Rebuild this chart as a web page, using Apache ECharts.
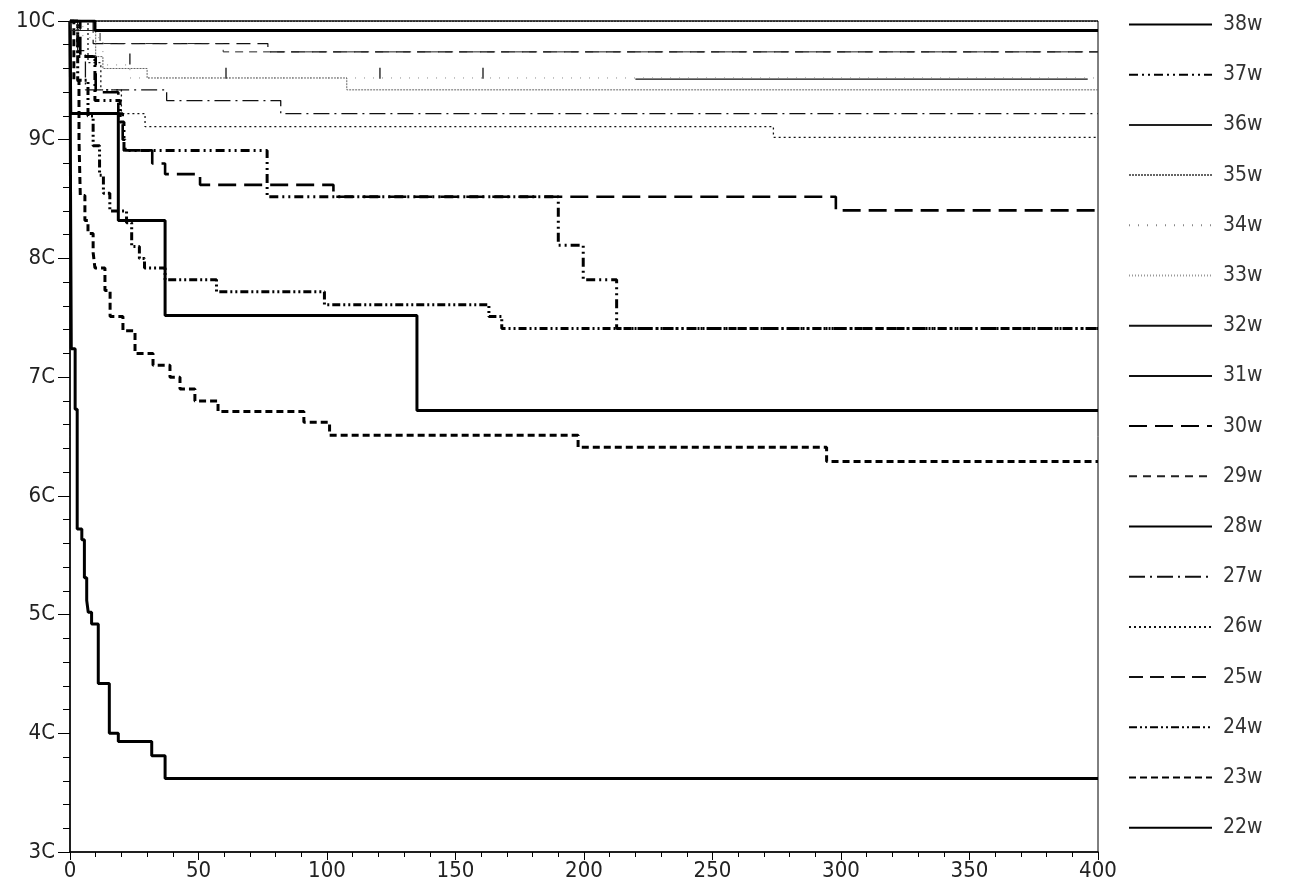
<!DOCTYPE html>
<html>
<head>
<meta charset="utf-8">
<script src="https://cdn.jsdelivr.net/npm/echarts@6/dist/echarts.min.js"></script>
<style>
  html, body { margin: 0; padding: 0; background: #fff; }
  #main { width: 1289px; height: 893px; }
</style>
</head>
<body>
<div id="main"></div>
<script>
// survival curves, [day, percent] at each step
var w22 = [[0,100],[0.2,86],[0.5,72.4],[2.0,67.3],[2.8,57.2],[4.6,56.3],[5.6,53.1],[6.5,51.2],[7.1,50.2],[8.4,49.2],[11.0,44.2],[15.3,40.0],[18.8,39.3],[31.8,38.1],[37.0,36.2],[400,36.2]];
var w23 = [[0,100],[1.5,95],[3.5,90],[4.0,85.3],[5.8,83.2],[7.0,82.1],[9.0,80.5],[9.7,79.2],[13.6,77.3],[15.6,75.1],[20.6,73.9],[25.3,72.0],[32.3,71.0],[38.9,70.0],[42.8,69.0],[48.6,68.0],[57.6,67.1],[91,66.2],[101,65.1],[197.7,64.1],[294.4,62.9],[400,62.9]];
var w24 = [[0,100],[3,95],[7,92],[9,89.5],[11.5,87],[13,85.5],[15.5,84],[22,83],[24,81],[27,80],[29,79.2],[37,78.2],[57,77.2],[99,76.1],[163,75.1],[168,74.1],[400,74.1]];
var w25 = [[0,100],[9,98.1],[77,97.4],[400,97.4]];
var w26 = [[0,100],[7,96.5],[12,94.2],[20,92.2],[29.2,91.1],[273.7,90.2],[400,90.2]];
var w27 = [[0,100],[3,97.5],[6,94.2],[37.6,93.3],[82,92.2],[400,92.2]];
var w28 = [[0,100],[0.3,92.2],[18.8,83.2],[37,75.2],[135,67.2],[400,67.2]];
var w29 = [[0,100],[4,99.2],[11.7,98.1],[59.6,97.4],[400,97.4]];
var w30 = [[0,100],[4,97],[10,94],[18.8,92.2],[20.5,90],[21.5,89.1],[32,88.0],[37,87.1],[50.6,86.2],[102.5,85.2],[298,84.05],[400,84.05]];
var w31 = [[0,100],[400,100]];
var w32 = [[220,95.1],[396,95.1]];
var w33 = [[0,100],[400,100]];
var w34 = [[0,100],[5,98.6],[12.8,96.3],[23.3,95.2],[400,95.2]];
var w35 = [[0,100],[10,97],[12.8,96.0],[30,95.2],[107.7,94.2],[400,94.2]];
var w36 = [[0,100],[0.4,99.2],[400,99.2]];
var w37 = [[0,100],[3,97],[9.7,93.3],[19.5,91.5],[21,89.1],[76.7,85.2],[190,81.1],[199.7,78.2],[212.7,74.1],[400,74.1]];
var w38 = [[0,100],[9.7,99.2],[400,99.2]];

// censored cases
var censorTicks = [[23.3,96.8],[60.7,95.6],[120.6,95.6],[160.7,95.6]];

var names = ['22w','23w','24w','25w','26w','27w','28w','29w','30w','31w','32w','33w','34w','35w','36w','37w','38w'];
var curves = [w22,w23,w24,w25,w26,w27,w28,w29,w30,w31,w32,w33,w34,w35,w36,w37,w38];

var yTicks = [30,40,50,60,70,80,90,100];
var xTicks = [0,50,100,150,200,250,300,350,400];

// line look per series, same order as names
var looks = [
  {type:'solid', width:3, color:'#000'},
  {type:[7,4], width:3, color:'#000'},
  {type:[8,3,2,3,2,3], width:3, color:'#000'},
  {type:[14,7], width:1.2, color:'#111'},
  {type:[2,3], width:1.3, color:'#111'},
  {type:[16,5,2,5], width:1.3, color:'#111'},
  {type:'solid', width:3, color:'#000'},
  {type:[8,6], width:1, color:'#222'},
  {type:[18,8], width:2.6, color:'#000'},
  {type:'solid', width:1.5, color:'#111'},
  {type:'solid', width:1.2, color:'#111'},
  {type:[1,2], width:1, color:'#999'},
  {type:[1,8], width:1, color:'#888'},
  {type:[2,1], width:1, color:'#666'},
  {type:'solid', width:1.2, color:'#222'},
  {type:[9,4,2,4,2,4], width:3, color:'#000'},
  {type:'solid', width:3, color:'#000'}
];

var series = names.map(function(n, i) {
  return {
    name: n,
    type: 'line',
    step: 'end',
    data: curves[i],
    symbol: 'none',
    lineStyle: {type: looks[i].type, width: looks[i].width, color: looks[i].color},
    itemStyle: {color: looks[i].color},
    z: 2 + i
  };
});
series.push({
  name: 'censor',
  type: 'scatter',
  data: censorTicks,
  symbol: 'rect',
  symbolSize: [1.5, 11],
  itemStyle: {color: '#000'},
  z: 30
});

var font = '"DejaVu Sans Condensed", "Liberation Sans Narrow", "Liberation Sans", sans-serif';
var myChart = echarts.init(document.getElementById('main'));
var option = {
  animation: false,
  backgroundColor: '#fff',
  grid: {left: 70, right: 191, top: 21, bottom: 41, show: true, borderColor: '#000', borderWidth: 1},
  legend: {
    data: names.slice().reverse(),
    orient: 'vertical',
    left: 1123,
    top: 9,
    itemWidth: 83,
    itemHeight: 20,
    itemGap: 29.2,
    itemStyle: {opacity: 0},
    textStyle: {fontFamily: font, fontSize: 21, lineHeight: 20, color: '#333', padding: [0, 0, 0, 6]},
    selectedMode: false
  },
  xAxis: {
    type: 'value',
    min: 0,
    max: 400,
    interval: 50,
    axisLine: {lineStyle: {color: '#000', width: 1.5}},
    axisTick: {length: 8, lineStyle: {color: '#000'}},
    minorTick: {show: true, splitNumber: 5, length: 5, lineStyle: {color: '#000'}},
    splitLine: {show: false},
    axisLabel: {fontFamily: font, fontSize: 22, color: '#222', margin: 8,
      formatter: function(v) { return xTicks.indexOf(v) >= 0 ? String(v) : ''; }}
  },
  yAxis: {
    type: 'value',
    min: 30,
    max: 100,
    interval: 10,
    axisLine: {lineStyle: {color: '#000', width: 1.5}},
    axisTick: {length: 12, lineStyle: {color: '#000'}},
    minorTick: {show: true, splitNumber: 5, length: 7, lineStyle: {color: '#000'}},
    splitLine: {show: false},
    axisLabel: {fontFamily: font, fontSize: 22, color: '#222', margin: 15,
      formatter: function(v) { return yTicks.indexOf(v) >= 0 ? (v / 10) + 'C' : ''; }}
  },
  series: series
};
myChart.setOption(option);
</script>
</body>
</html>
